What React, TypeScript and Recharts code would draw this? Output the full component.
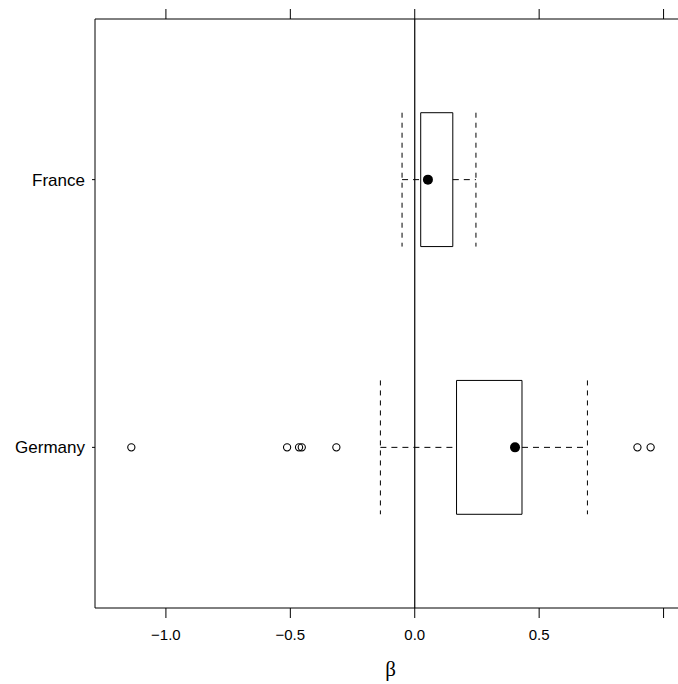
import React from 'react';
import {
  ComposedChart,
  XAxis,
  YAxis,
  Scatter,
  ReferenceArea,
  ReferenceLine,
} from 'recharts';

// ---- data ----
const countries = ['France', 'Germany'];
const positions = [1, 2];
const lowerWhisker = [-0.051, -0.138];
const q1 = [0.024, 0.168];
const median = [0.053, 0.403];
const q3 = [0.153, 0.431];
const upperWhisker = [0.246, 0.694];
const outlierCountryIndex = 1; // Germany
const germanyOutliers = [-1.139, -0.513, -0.465, -0.454, -0.315, 0.895, 0.948];
const xTicks = [-1, -0.5, 0, 0.5, 1];
const xDomain: [number, number] = [-1.285, 1.058];
const yDomain: [number, number] = [0.4, 2.6];
const boxHalfHeight = 0.25;

const medianPoints = countries.map((c, i) => ({ x: median[i], y: positions[i], name: c }));
const outlierPoints = germanyOutliers.map((v) => ({ x: v, y: positions[outlierCountryIndex] }));

const SANS = '"Liberation Sans", Arial, Helvetica, sans-serif';
const SERIF = '"Liberation Serif", "Times New Roman", serif';

const fmtBottom = (v: number) => {
  if (v === 1) return '';
  const s = Math.abs(v).toFixed(1);
  return v < 0 ? '\u2212' + s : s;
};

const MedianDot = (props: any) => (
  <circle cx={props.cx} cy={props.cy} r={5} fill="#000" stroke="none" />
);
const OutlierDot = (props: any) => (
  <circle cx={props.cx} cy={props.cy} r={3.6} fill="none" stroke="#000" strokeWidth={1.1} />
);

export default function App() {
  return (
    <div
      style={{
        position: 'absolute',
        left: 0,
        top: 0,
        width: 678,
        height: 684,
        overflow: 'hidden',
        background: '#fff',
      }}
    >
      <ComposedChart
        width={678}
        height={684}
        margin={{ top: 0, right: 0, bottom: 0, left: 0 }}
        style={{ fontFamily: SANS }}
      >
        <XAxis
          xAxisId="t"
          orientation="top"
          type="number"
          dataKey="x"
          domain={xDomain}
          allowDataOverflow
          ticks={xTicks}
          tickFormatter={() => ''}
          height={19}
          tickSize={10}
          axisLine={{ stroke: '#000', strokeWidth: 1 }}
          tickLine={{ stroke: '#000', strokeWidth: 1 }}
        />
        <XAxis
          xAxisId="b"
          orientation="bottom"
          type="number"
          dataKey="x"
          domain={xDomain}
          allowDataOverflow
          ticks={xTicks}
          tickFormatter={fmtBottom}
          height={76}
          tickSize={10}
          tickMargin={11}
          tick={{ fill: '#000', fontSize: 15, fontFamily: SANS }}
          axisLine={{ stroke: '#000', strokeWidth: 1 }}
          tickLine={{ stroke: '#000', strokeWidth: 1 }}
          label={{
            value: '\u03B2',
            position: 'insideBottom',
            offset: 8,
            dx: 4,
            style: { fontFamily: SERIF, fontSize: 21, fill: '#000' },
          }}
        />
        <YAxis
          yAxisId="y"
          type="number"
          dataKey="y"
          domain={yDomain}
          allowDataOverflow
          reversed
          ticks={positions}
          tickFormatter={(v: number) => countries[positions.indexOf(v)] ?? ''}
          width={95}
          tickSize={3}
          tickMargin={7}
          tick={{ fill: '#000', fontSize: 17, fontFamily: SANS }}
          axisLine={{ stroke: '#000', strokeWidth: 1 }}
          tickLine={{ stroke: '#000', strokeWidth: 1 }}
        />

        <ReferenceLine xAxisId="b" yAxisId="y" x={0} stroke="#000" strokeWidth={1.2} />

        {countries.map((c, i) => (
          <ReferenceLine
            key={'wl' + c}
            xAxisId="b"
            yAxisId="y"
            segment={[
              { x: lowerWhisker[i], y: positions[i] },
              { x: q1[i], y: positions[i] },
            ]}
            stroke="#000"
            strokeWidth={1}
            strokeDasharray="6 5"
          />
        ))}
        {countries.map((c, i) => (
          <ReferenceLine
            key={'wu' + c}
            xAxisId="b"
            yAxisId="y"
            segment={[
              { x: q3[i], y: positions[i] },
              { x: upperWhisker[i], y: positions[i] },
            ]}
            stroke="#000"
            strokeWidth={1}
            strokeDasharray="6 5"
          />
        ))}
        {countries.map((c, i) => (
          <ReferenceLine
            key={'cl' + c}
            xAxisId="b"
            yAxisId="y"
            segment={[
              { x: lowerWhisker[i], y: positions[i] - boxHalfHeight },
              { x: lowerWhisker[i], y: positions[i] + boxHalfHeight },
            ]}
            stroke="#000"
            strokeWidth={1}
            strokeDasharray="5 5"
          />
        ))}
        {countries.map((c, i) => (
          <ReferenceLine
            key={'cu' + c}
            xAxisId="b"
            yAxisId="y"
            segment={[
              { x: upperWhisker[i], y: positions[i] - boxHalfHeight },
              { x: upperWhisker[i], y: positions[i] + boxHalfHeight },
            ]}
            stroke="#000"
            strokeWidth={1}
            strokeDasharray="5 5"
          />
        ))}
        {countries.map((c, i) => (
          <ReferenceArea
            key={'box' + c}
            xAxisId="b"
            yAxisId="y"
            x1={q1[i]}
            x2={q3[i]}
            y1={positions[i] - boxHalfHeight}
            y2={positions[i] + boxHalfHeight}
            fill="#fff"
            fillOpacity={0}
            stroke="#000"
            strokeWidth={1}
          />
        ))}

        <Scatter
          xAxisId="b"
          yAxisId="y"
          data={outlierPoints}
          shape={OutlierDot}
          isAnimationActive={false}
        />
        <Scatter
          xAxisId="b"
          yAxisId="y"
          data={medianPoints}
          shape={MedianDot}
          isAnimationActive={false}
        />
      </ComposedChart>
    </div>
  );
}
